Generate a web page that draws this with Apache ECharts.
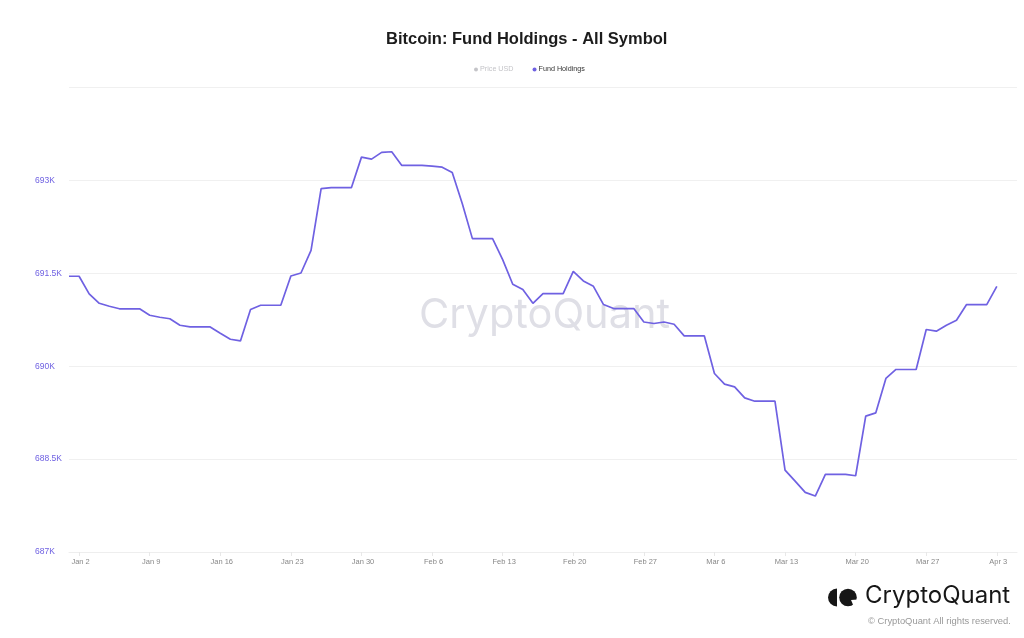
<!DOCTYPE html>
<html><head><meta charset="utf-8">
<script src="https://cdn.jsdelivr.net/npm/echarts@6/dist/echarts.min.js"></script>
<style>html,body{margin:0;padding:0;background:#fff}#c{width:1024px;height:638px}</style>
</head><body><div id="c"></div>
<script>
const titleText = 'Bitcoin: Fund Holdings - All Symbol';
const seriesNames = ['Price USD', 'Fund Holdings'];
const janDays = ['Jan 1','Jan 2','Jan 3','Jan 4','Jan 5','Jan 6','Jan 7','Jan 8','Jan 9','Jan 10','Jan 11','Jan 12','Jan 13','Jan 14','Jan 15','Jan 16','Jan 17','Jan 18','Jan 19','Jan 20','Jan 21','Jan 22','Jan 23','Jan 24','Jan 25','Jan 26','Jan 27','Jan 28','Jan 29','Jan 30','Jan 31'];
const febDays = ['Feb 1','Feb 2','Feb 3','Feb 4','Feb 5','Feb 6','Feb 7','Feb 8','Feb 9','Feb 10','Feb 11','Feb 12','Feb 13','Feb 14','Feb 15','Feb 16','Feb 17','Feb 18','Feb 19','Feb 20','Feb 21','Feb 22','Feb 23','Feb 24','Feb 25','Feb 26','Feb 27','Feb 28'];
const marDays = ['Mar 1','Mar 2','Mar 3','Mar 4','Mar 5','Mar 6','Mar 7','Mar 8','Mar 9','Mar 10','Mar 11','Mar 12','Mar 13','Mar 14','Mar 15','Mar 16','Mar 17','Mar 18','Mar 19','Mar 20','Mar 21','Mar 22','Mar 23','Mar 24','Mar 25','Mar 26','Mar 27','Mar 28','Mar 29','Mar 30','Mar 31'];
const aprDays = ['Apr 1','Apr 2','Apr 3','Apr 4','Apr 5'];
const tickDates = ['Jan 2','Jan 9','Jan 16','Jan 23','Jan 30','Feb 6','Feb 13','Feb 20','Feb 27','Mar 6','Mar 13','Mar 20','Mar 27','Apr 3'];
const janHoldings = [691452,691452,691169,691016,690968,690927,690927,690927,690823,690790,690766,690661,690634,690634,690634,690532,690435,690408,690915,690984,690984,690984,691456,691505,691871,692866,692882,692882,692882,693376,693344];
const febHoldings = [693452,693463,693242,693242,693242,693231,693214,693129,692624,692060,692060,692060,691721,691323,691237,691016,691173,691173,691173,691532,691376,691290,690995,690931,690931,690931,690714,690689];
const marHoldings = [690714,690677,690489,690489,690489,689882,689710,689666,689489,689435,689435,689435,688323,688145,687963,687903,688253,688253,688253,688231,689194,689247,689802,689947,689947,689947,690592,690565,690661,690742,690995];
const aprHoldings = [690995,690995,691290,null,null];

const categories = [...janDays, ...febDays, ...marDays, ...aprDays];
const holdings = [...janHoldings, ...febHoldings, ...marHoldings, ...aprHoldings];
const showTick = (i, v) => tickDates.includes(v);
const sans = '"Liberation Sans", Arial, sans-serif';
const purple = '#6f61e2';

const chart = echarts.init(document.getElementById('c'), null, {renderer:'canvas'});
chart.setOption({
  animation:false,
  backgroundColor:'#fff',
  title:{text:titleText,left:386,top:31,padding:0,
    textStyle:{fontFamily:sans,fontSize:16.5,fontWeight:'bold',color:'#1c1c1c'}},
  legend:{data:seriesNames,top:66,left:474,itemWidth:4,itemHeight:4,itemGap:19,icon:'circle',padding:0,
    selected:{'Price USD':false},inactiveColor:'#c4c4c8',
    textStyle:{fontFamily:sans,fontSize:7.2,color:'#333',padding:[0,0,0,-3]}},
  grid:{left:69,right:7,top:87.5,bottom:86,containLabel:false},
  xAxis:{type:'category',data:categories,boundaryGap:false,
    axisLine:{lineStyle:{color:'#eeeeee',width:1}},
    axisTick:{interval:showTick,length:4,lineStyle:{color:'#e8e8e8'}},
    splitLine:{show:false},
    axisLabel:{interval:showTick,margin:6,padding:[0,0,0,3],fontFamily:sans,fontSize:7.5,color:'#888',hideOverlap:false}},
  yAxis:{type:'value',min:687000,max:694500,interval:1500,
    axisLine:{show:false},axisTick:{show:false},
    splitLine:{lineStyle:{color:'#f0f0f0',width:1}},
    axisLabel:{showMaxLabel:false,align:'left',margin:34,fontFamily:sans,fontSize:8.5,color:purple,
      formatter:v=>(v/1000)+'K'}},
  series:[
    {name:'Price USD',type:'line',data:[],itemStyle:{color:'#c4c4c8'},showSymbol:false},
    {name:'Fund Holdings',type:'line',data:holdings,showSymbol:false,smooth:false,connectNulls:false,
      itemStyle:{color:purple},lineStyle:{color:purple,width:1.7}}
  ],
  graphic:[
    {type:'text',z:0,left:419,top:295,style:{text:'CryptoQuant',font:'400 41.5px "Inter", '+sans,fill:'#dfdfe6'}},
    {type:'sector',z:5,shape:{cx:837,cy:597.5,r:9,r0:0,startAngle:Math.PI/2,endAngle:Math.PI*1.5},style:{fill:'#161616'}},
    {type:'circle',z:5,shape:{cx:848,cy:597.5,r:8.8},style:{fill:'#161616'}},
    {type:'polygon',z:6,shape:{points:[[851,600],[858,599.5],[858,607],[854,607]]},style:{fill:'#fff'}},
    {type:'text',z:5,left:865,top:584,style:{text:'CryptoQuant',font:'400 24px "Inter", '+sans,fill:'#161616'}},
    {type:'text',z:5,left:868,top:617,style:{text:'© CryptoQuant All rights reserved.',font:'9.4px '+sans,fill:'#999'}}
  ]
});
</script></body></html>
